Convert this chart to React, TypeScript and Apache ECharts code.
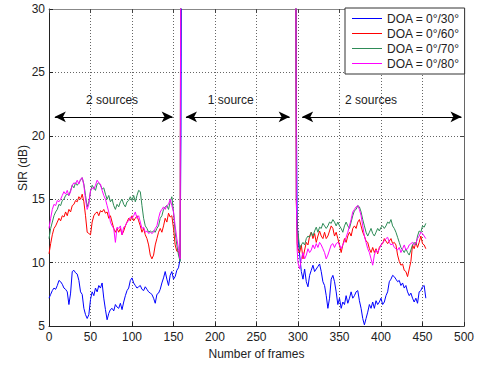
import React, { useEffect, useRef } from "react";
import * as echarts from "echarts";

// sampling grid (frame index) for each part of the curves
const FRAMES_A: number[] = Array.from({ length: 80 }, (_, i) => i * 2); // 0..158
const RISE_FRAMES = [159, 160];
const FALL_FRAMES = [297, 298, 299];
const FRAMES_B: number[] = Array.from({ length: 78 }, (_, i) => 300 + i * 2); // 300..454

const SERIES_NAMES = ["DOA = 0°/30°", "DOA = 0°/60°", "DOA = 0°/70°", "DOA = 0°/80°"];
const COLORS = ["#0000ff", "#ff0000", "#2e8b57", "#ff00ff"];

// DOA 0/30 (blue)
const blueA = [
  7.2, 7.5, 7.8, 8.0, 7.9, 8.2, 8.6, 8.5, 8.3, 8.0,
  7.9, 7.7, 6.7, 7.6, 9.3, 9.4, 9.2, 9.1, 8.6, 7.7,
  7.5, 6.4, 5.9, 5.6, 5.9, 7.1, 7.7, 7.4, 8.0, 7.7,
  8.2, 8.0, 8.4, 7.2, 6.3, 5.5, 6.0, 6.3, 6.4, 6.2,
  6.7, 6.5, 6.4, 6.8, 6.3, 6.9, 7.4, 7.8, 8.0, 8.6,
  8.8, 8.4, 8.2, 8.0, 8.1, 8.2, 7.9, 7.8, 8.1, 7.9,
  7.7, 7.6, 7.5, 7.2, 6.8, 7.5, 7.6, 7.9, 8.4, 8.8,
  9.3, 8.7, 8.2, 9.0, 9.3, 8.7, 8.9, 9.4, 9.6, 10.3,
];
const blueRise = [20.3, 45];
const blueFall = [45, 22.5, 13.5];
const blueB = [
  12.0, 10.6, 9.3, 8.7, 9.5, 8.5, 8.1, 9.0, 9.4, 9.8,
  9.3, 9.5, 9.7, 9.9, 9.3, 8.5, 8.2, 7.4, 6.4, 7.2,
  8.7, 9.0, 8.5, 7.7, 6.7, 7.2, 6.4, 6.9, 6.7, 7.4,
  6.8, 7.2, 7.7, 7.2, 7.4, 7.7, 7.8, 7.0, 6.4, 5.6,
  5.1, 5.6, 6.1, 6.7, 6.4, 6.9, 6.4, 7.0, 6.7, 6.9,
  7.2, 6.7, 6.9, 7.4, 7.7, 8.5, 8.7, 9.0, 8.9, 8.7,
  8.5, 8.6, 8.2, 8.4, 8.0, 8.2, 7.7, 7.4, 7.6, 7.2,
  6.9, 7.2, 6.8, 7.7, 7.8, 8.1, 8.2, 7.2,
];

// DOA 0/60 (red)
const redA = [
  10.7, 11.5, 12.2, 12.7, 12.9, 13.2, 13.5, 13.3, 13.7, 13.6,
  14.0, 13.7, 14.2, 14.0, 14.5, 14.6, 14.9, 14.8, 15.2, 15.0,
  15.4, 14.8, 13.7, 12.4, 12.3, 12.2, 13.2, 13.7, 13.9, 14.0,
  13.7, 14.1, 14.0, 14.2, 13.9, 14.0, 13.5, 13.7, 13.2, 12.7,
  12.4, 12.7, 12.4, 12.7, 12.2, 12.5, 12.9, 13.2, 13.5, 13.3,
  13.7, 13.3, 13.5, 13.7, 13.3, 12.9, 12.4, 12.7, 12.2, 11.9,
  11.4, 10.6, 10.3, 10.6, 11.4, 11.9, 12.4, 12.7, 12.4, 12.9,
  13.5, 13.2, 13.9, 13.6, 13.7, 12.7, 11.4, 10.9, 10.9, 10.3,
];
const redRise = [45, 45];
const redFall = [45, 14.8, 11.5];
const redB = [
  11.0, 10.8, 11.4, 10.3, 11.0, 11.6, 11.4, 12.1, 12.4, 11.9,
  12.3, 11.6, 12.1, 12.5, 12.1, 11.9, 12.4, 11.9, 12.1, 12.5,
  12.9, 12.7, 12.1, 12.4, 11.9, 11.4, 10.8, 11.4, 11.9, 11.6,
  12.1, 12.4, 12.1, 12.7, 12.9, 12.7, 13.2, 13.4, 12.9, 12.4,
  12.1, 11.7, 11.6, 11.1, 10.8, 11.2, 10.8, 11.1, 10.7, 11.2,
  11.4, 11.5, 11.9, 11.7, 11.5, 11.7, 11.9, 11.5, 11.6, 11.4,
  10.6, 10.1, 9.8, 9.9, 9.4, 9.3, 8.9, 9.5, 10.1, 11.4,
  11.1, 11.6, 11.2, 11.6, 12.1, 11.5, 11.4, 11.1,
];

// DOA 0/70 (green)
const greenA = [
  11.9, 12.7, 13.2, 13.7, 14.0, 14.2, 14.6, 14.5, 14.9, 15.0,
  15.3, 15.4, 15.3, 15.7, 16.1, 15.9, 16.3, 16.1, 16.3, 16.5,
  16.7, 16.2, 15.3, 14.4, 14.8, 15.6, 16.1, 15.9, 15.7, 16.2,
  16.3, 16.1, 15.8, 15.9, 15.4, 15.0, 15.3, 14.8, 15.0, 14.5,
  14.2, 14.6, 14.4, 14.8, 15.0, 14.6, 14.4, 14.8, 14.9, 15.2,
  14.9, 15.3, 14.8, 15.3, 15.7, 15.6, 14.5, 13.5, 12.9, 12.7,
  12.4, 12.5, 12.4, 12.5, 12.4, 12.7, 12.9, 13.5, 13.7, 14.2,
  14.4, 14.5, 14.2, 14.8, 15.2, 14.0, 12.4, 11.4, 10.6, 10.1,
];
const greenRise = [45, 45];
const greenFall = [45, 15.0, 12.6];
const greenB = [
  12.4, 11.1, 11.4, 11.6, 11.4, 11.9, 12.1, 12.0, 12.4, 12.1,
  12.5, 12.8, 12.4, 12.8, 12.7, 13.1, 12.9, 12.7, 12.9, 13.2,
  13.1, 13.4, 13.2, 12.9, 13.2, 12.9, 12.7, 12.4, 12.9, 13.2,
  12.9, 12.7, 13.2, 13.7, 14.1, 14.2, 14.5, 14.4, 14.0, 13.4,
  12.9, 12.4, 12.1, 12.4, 12.7, 12.3, 12.1, 12.4, 12.7, 12.5,
  12.8, 12.9, 12.7, 12.9, 13.2, 13.1, 13.4, 12.9, 12.7, 12.4,
  12.0, 11.6, 11.2, 11.0, 10.8, 11.1, 10.8, 10.6, 11.0, 11.4,
  11.6, 11.4, 12.1, 12.5, 12.4, 12.9, 12.8, 13.1,
];

// DOA 0/80 (magenta)
const magentaA = [
  12.7, 13.5, 14.2, 14.6, 14.5, 14.9, 14.8, 15.0, 15.3, 15.6,
  15.4, 15.7, 15.3, 15.6, 16.1, 16.3, 16.2, 16.5, 16.2, 16.6,
  16.7, 16.1, 15.0, 14.2, 14.6, 15.7, 15.9, 15.8, 16.1, 16.5,
  16.3, 16.2, 15.7, 15.3, 15.0, 14.5, 14.0, 13.2, 12.9, 12.7,
  11.6, 12.8, 12.7, 12.9, 12.2, 12.8, 12.9, 13.2, 13.3, 13.6,
  13.5, 13.7, 14.0, 13.5, 13.7, 13.2, 12.7, 12.8, 12.4, 12.5,
  12.3, 12.4, 12.3, 12.4, 12.7, 12.9, 13.5, 14.0, 14.2, 14.4,
  14.2, 14.5, 14.6, 15.0, 14.5, 14.0, 12.9, 11.9, 11.1, 10.3,
];
const magentaRise = [45, 45];
const magentaFall = [45, 15.2, 11.0];
const magentaB = [
  10.0, 9.5, 10.3, 10.8, 10.3, 10.6, 11.1, 10.8, 11.0, 11.4,
  11.1, 11.5, 11.2, 11.6, 11.4, 11.1, 10.8, 10.3, 10.6, 11.0,
  11.4, 11.5, 11.2, 11.5, 11.6, 11.4, 11.1, 11.4, 11.7, 12.0,
  12.4, 12.9, 13.4, 14.0, 14.2, 14.4, 14.5, 14.2, 13.7, 12.9,
  12.1, 11.6, 11.1, 10.8, 10.3, 9.8, 10.6, 11.0, 10.8, 11.1,
  11.4, 11.6, 11.7, 11.9, 12.0, 11.6, 11.4, 11.5, 11.2, 11.1,
  11.0, 11.2, 10.8, 11.1, 11.4, 11.0, 11.1, 11.4, 11.5, 11.6,
  11.4, 11.5, 11.9, 12.1, 12.4, 12.3, 12.1, 11.9,
];

// annotations: double arrows [from frame, to frame] at SIR level, and their labels
const ARROW_SPANS = [
  [7, 149],
  [165, 290],
  [305, 497],
];
const ARROW_LEVEL = 21.5;
const ARROW_LABELS = ["2 sources", "1 source", "2 sources"];
const LABEL_FRAMES = [76, 219, 388];
const LABEL_LEVEL = 22.85;

const X_TICKS = { min: 0, max: 500, interval: 50 };
const Y_TICKS = { min: 5, max: 30, interval: 5 };
const Y_TITLE = "SIR (dB)";
const X_TITLE = "Number of frames";

const FONT = "'Liberation Sans', Arial, Helvetica, sans-serif";
const FS = 12;

function buildData(a: number[], rise: number[], fall: number[], b: number[]) {
  const out: any[] = [];
  FRAMES_A.forEach((f, i) => out.push([f, a[i]]));
  RISE_FRAMES.forEach((f, i) => out.push([f, rise[i]]));
  out.push([228, null]);
  FALL_FRAMES.forEach((f, i) => out.push([f, fall[i]]));
  FRAMES_B.forEach((f, i) => out.push([f, b[i]]));
  return out;
}

export default function App() {
  const ref = useRef<HTMLDivElement>(null);
  useEffect(() => {
    document.body.style.margin = "0";
    if (!ref.current) return;
    const chart = echarts.init(ref.current, undefined, { renderer: "svg" });
    const all = [
      buildData(blueA, blueRise, blueFall, blueB),
      buildData(redA, redRise, redFall, redB),
      buildData(greenA, greenRise, greenFall, greenB),
      buildData(magentaA, magentaRise, magentaFall, magentaB),
    ];
    const gridLine = { show: true, lineStyle: { color: "#666", type: [1, 2] as any, width: 1 } };
    const series: any[] = all.map((d, i) => ({
      name: SERIES_NAMES[i],
      type: "line",
      data: d,
      symbol: "none",
      connectNulls: false,
      clip: true,
      lineStyle: { color: COLORS[i], width: 1 },
      itemStyle: { color: COLORS[i] },
      z: 2 + i,
    }));
    series.push({
      name: "annotations",
      type: "line",
      data: [],
      silent: true,
      markLine: {
        silent: true,
        symbol: ["arrow", "arrow"],
        symbolSize: [8, 11],
        lineStyle: { color: "#000", width: 1, type: "solid" },
        label: { show: false },
        data: ARROW_SPANS.map((s) => [
          { coord: [s[0], ARROW_LEVEL] },
          { coord: [s[1], ARROW_LEVEL] },
        ]),
      },
      markPoint: {
        silent: true,
        symbol: "circle",
        symbolSize: 0,
        label: {
          show: true,
          position: "inside",
          color: "#222",
          fontSize: FS,
          fontFamily: FONT,
          formatter: (p: any) => p.name,
        },
        data: ARROW_LABELS.map((t, i) => ({ name: t, coord: [LABEL_FRAMES[i], LABEL_LEVEL] })),
      },
    });
    chart.setOption({
      animation: false,
      textStyle: { fontFamily: FONT },
      grid: { left: 49, right: 15, top: 9, bottom: 37, show: false },
      graphic: [
        {
          type: "text",
          x: 23,
          y: 168,
          rotation: Math.PI / 2,
          style: {
            text: Y_TITLE,
            fill: "#222",
            fontSize: FS,
            fontFamily: FONT,
            align: "center",
            verticalAlign: "middle",
          },
        },
      ],
      legend: {
        data: SERIES_NAMES.map((n, i) => ({ name: n, itemStyle: { color: COLORS[i] } })),
        icon: "rect",
        orient: "vertical",
        left: 345,
        top: 8,
        backgroundColor: "#fff",
        borderColor: "#333",
        borderWidth: 1,
        borderRadius: 0,
        padding: [4, 5, 4, 7],
        itemWidth: 30,
        itemHeight: 1,
        itemGap: 2,
        textStyle: { fontSize: FS, color: "#222", fontFamily: FONT, lineHeight: 13 },
      },
      xAxis: [
        {
          type: "value",
          ...X_TICKS,
          position: "bottom",
          name: X_TITLE,
          nameLocation: "middle",
          nameGap: 20,
          nameTextStyle: { fontSize: FS, color: "#222", fontFamily: FONT },
          axisLine: { show: true, onZero: false, lineStyle: { color: "#222" } },
          axisTick: { show: true, inside: true, length: 4, lineStyle: { color: "#222" } },
          axisLabel: { fontSize: FS, color: "#222", margin: 5, fontFamily: FONT },
          splitLine: gridLine,
        },
        {
          type: "value",
          ...X_TICKS,
          position: "top",
          axisLine: { show: true, onZero: false, lineStyle: { color: "#888" } },
          axisTick: { show: true, inside: true, length: 4, lineStyle: { color: "#444" } },
          axisLabel: { show: false },
          splitLine: { show: false },
        },
      ],
      yAxis: [
        {
          type: "value",
          ...Y_TICKS,
          position: "left",
          axisLine: { show: true, onZero: false, lineStyle: { color: "#222" } },
          axisTick: { show: true, inside: true, length: 4, lineStyle: { color: "#222" } },
          axisLabel: { fontSize: FS, color: "#222", margin: 4, fontFamily: FONT },
          splitLine: gridLine,
        },
        {
          type: "value",
          ...Y_TICKS,
          position: "right",
          axisLine: { show: true, onZero: false, lineStyle: { color: "#666" } },
          axisTick: { show: true, inside: true, length: 4, lineStyle: { color: "#444" } },
          axisLabel: { show: false },
          splitLine: { show: false },
        },
      ],
      series,
    });
    return () => chart.dispose();
  }, []);
  return <div ref={ref} style={{ width: 479, height: 365 }} />;
}
